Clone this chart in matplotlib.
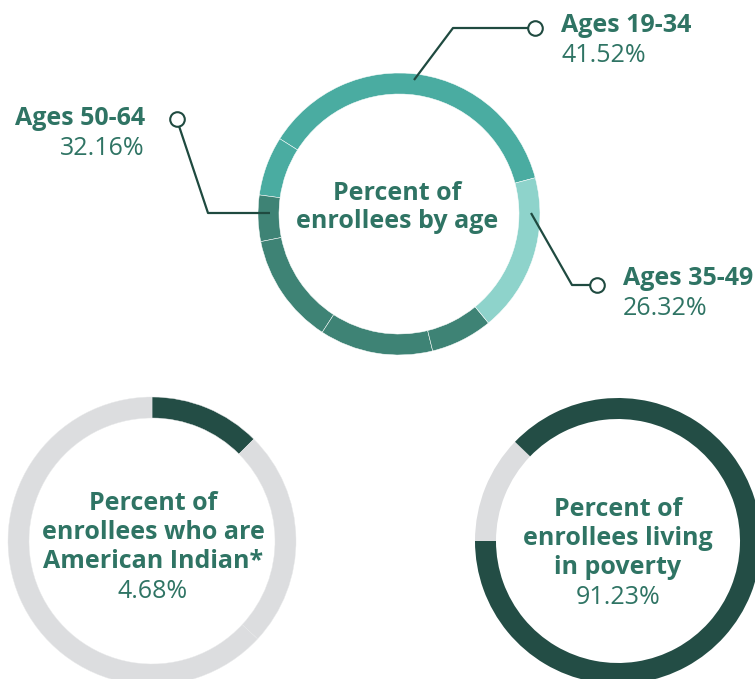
import matplotlib
matplotlib.use('Agg')
import matplotlib.pyplot as plt

# Labels shown on the chart
age_groups = ['Ages 19-34', 'Ages 35-49', 'Ages 50-64']
age_pcts = [41.52, 26.32, 32.16]
indian_pct = 4.68
poverty_pct = 91.23

# Ring segments as drawn (percent of the ring, counterclockwise)
age_ring = [36.9, 6.8, 5.3, 12.7, 13.0, 7.1, 18.2]
age_ring_group = [0, 0, 2, 2, 2, 2, 1]
indian_ring = [12.5, 24.4, 63.1]      # share, rest, rest
poverty_ring = [12.2, 87.8]           # rest, share

TEAL = '#4aaca1'
LIGHT = '#8ed3cb'
DARK = '#3e8375'
GREEN = '#234d45'
GREY = '#dcdddf'
TEXT = '#2f7464'
LINE = '#1f4a40'
group_colors = [TEAL, LIGHT, DARK]

H = 679
FS = 18
fig = plt.figure(figsize=(7.55, 6.79), dpi=100)
ax = fig.add_axes([0, 0, 1, 1])
font = 'Open Sans'


def Y(y):
    return H - y


# Top donut: enrollees by age
ax.pie(age_ring, colors=[group_colors[g] for g in age_ring_group],
       center=(399, Y(214)), radius=141, startangle=14.9, counterclock=True,
       wedgeprops=dict(width=21, edgecolor='white', linewidth=0.35))

# Bottom left: American Indian
ax.pie(indian_ring, colors=[GREEN, GREY, GREY],
       center=(152, Y(541)), radius=144, startangle=90, counterclock=False,
       wedgeprops=dict(width=21, edgecolor='#e8e9ea', linewidth=0.3))

# Bottom right: living in poverty
ax.pie(poverty_ring, colors=[GREY, GREEN],
       center=(618, Y(541)), radius=143, startangle=180, counterclock=False,
       wedgeprops=dict(width=21, linewidth=0))

# Leader lines
leaders = [
    [(414, 80), (453, 28), (528, 28)],
    [(531, 213), (572, 285), (590, 285)],
    [(270, 213), (208, 213), (179, 126)],
]
ends = [(535, 28), (597, 285), (177, 119)]
for pts, end in zip(leaders, ends):
    ax.plot([p[0] for p in pts], [Y(p[1]) for p in pts], color=LINE, lw=1.6,
            solid_capstyle='butt', zorder=3)
    ax.plot(end[0], Y(end[1]), 'o', ms=10.5, mfc='white', mec=LINE, mew=1.5, zorder=4)

# Age labels
label_pos = [(561, 32, 'left'), (623, 285, 'left'), (145, 125, 'right')]
for name, pct, (x, y, ha) in zip(age_groups, age_pcts, label_pos):
    ax.text(x, Y(y), name, ha=ha, va='baseline', fontsize=FS, fontweight='bold',
            color=TEXT, family=font)
    ax.text(x, Y(y + 30), f'{pct:.2f}%', ha=ha, va='baseline', fontsize=FS,
            color=TEXT, family=font)

# Centre texts
for i, line in enumerate(['Percent of', 'enrollees by age']):
    ax.text(397, Y(200 + 28 * i), line, ha='center', va='baseline', fontsize=FS,
            fontweight='bold', color=TEXT, family=font)

for i, line in enumerate(['Percent of', 'enrollees who are', 'American Indian*']):
    ax.text(153, Y(510 + 29 * i), line, ha='center', va='baseline', fontsize=FS,
            fontweight='bold', color=TEXT, family=font)
ax.text(153, Y(598), f'{indian_pct:.2f}%', ha='center', va='baseline', fontsize=FS,
        color=TEXT, family=font)

for i, line in enumerate(['Percent of', 'enrollees living', 'in poverty']):
    ax.text(618, Y(516 + 29 * i), line, ha='center', va='baseline', fontsize=FS,
            fontweight='bold', color=TEXT, family=font)
ax.text(618, Y(604), f'{poverty_pct:.2f}%', ha='center', va='baseline', fontsize=FS,
        color=TEXT, family=font)

ax.set_xlim(0, 755)
ax.set_ylim(0, H)
ax.set_aspect('equal')
ax.axis('off')

fig.savefig('out.png', dpi=100)
plt.close(fig)
